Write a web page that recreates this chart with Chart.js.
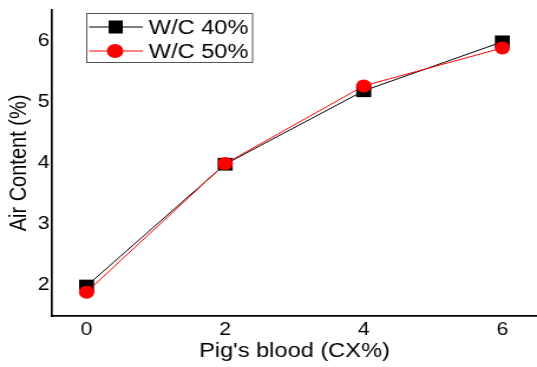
<!DOCTYPE html>
<html>
<head>
<meta charset="utf-8">
<script src="https://cdn.jsdelivr.net/npm/chart.js@4.4.0/dist/chart.umd.min.js"></script>
<style>
  html, body { margin: 0; padding: 0; background: #fff; overflow: hidden; }
  /* the source figure is stretched horizontally, so the canvas is too */
  #chart { display: block; transform: scaleX(1.1802); transform-origin: 0 0; }
</style>
</head>
<body>
<canvas id="chart" width="455" height="367"></canvas>
<script>
const xValues = [0, 2, 4, 6];
const wc40 = [1.99, 3.98, 5.18, 5.98];
const wc50 = [1.89, 3.99, 5.26, 5.88];
const xTicks = [0, 2, 4, 6];
const yTicks = [2, 3, 4, 5, 6];
const seriesNames = ["W/C 40%", "W/C 50%"];

const FONT = "'Liberation Sans', Arial, sans-serif";

// === Boxed legend with line + marker ===
const boxLegend = {
  id: "boxLegend",
  afterDraw(chart) {
    const ctx = chart.ctx;
    ctx.save();
    ctx.strokeStyle = "#555";
    ctx.lineWidth = 1;
    ctx.strokeRect(73.5, 13.5, 140.5, 49);
    const rows = [
      { y: 27, ds: chart.data.datasets[0] },
      { y: 51, ds: chart.data.datasets[1] },
    ];
    rows.forEach((r) => {
      ctx.strokeStyle = r.ds.borderColor;
      ctx.lineWidth = 1;
      ctx.beginPath();
      ctx.moveTo(75.5, r.y);
      ctx.lineTo(121, r.y);
      ctx.stroke();
      ctx.fillStyle = r.ds.pointBackgroundColor;
      if (r.ds.pointStyle === "rect") {
        ctx.fillRect(98 - 6, r.y - 6.5, 12, 13);
      } else {
        ctx.beginPath();
        ctx.arc(97.5, r.y, 7, 0, Math.PI * 2);
        ctx.fill();
      }
      ctx.fillStyle = "#000";
      ctx.font = "20px " + FONT;
      ctx.textBaseline = "middle";
      ctx.fillText(r.ds.label, 126, r.y + 1);
    });
    ctx.restore();
  },
};

const ctx = document.getElementById("chart").getContext("2d");
new Chart(ctx, {
  type: "line",
  data: {
    datasets: [
      {
        label: seriesNames[0],
        data: xValues.map((x, i) => ({ x: x, y: wc40[i] })),
        borderColor: "#000",
        borderWidth: 1,
        pointStyle: "rect",
        pointRadius: 9,
        pointBackgroundColor: "#000",
        pointBorderColor: "#000",
        pointBorderWidth: 0,
        order: 1,
      },
      {
        label: seriesNames[1],
        data: xValues.map((x, i) => ({ x: x, y: wc50[i] })),
        borderColor: "#ff0000",
        borderWidth: 1,
        pointStyle: "circle",
        pointRadius: 6.5,
        pointBackgroundColor: "#ff0000",
        pointBorderColor: "#ff0000",
        pointBorderWidth: 0,
        order: 0,
      },
    ],
  },
  options: {
    responsive: false,
    animation: false,
    devicePixelRatio: 1,
    layout: { autoPadding: false, padding: { top: 10, right: 0, left: 0, bottom: 0 } },
    plugins: { legend: { display: false }, tooltip: { enabled: false } },
    scales: {
      x: {
        type: "linear",
        min: -0.5,
        max: 6.5,
        afterBuildTicks: (axis) => {
          axis.ticks = xTicks.map((v) => ({ value: v }));
        },
        afterFit: (axis) => {
          axis.height = 51;
          axis.paddingLeft = 0;
          axis.paddingRight = 0;
        },
        grid: { display: false, drawTicks: false },
        border: { color: "#000", width: 1.7 },
        ticks: { color: "#000", font: { size: 18, family: FONT }, padding: 3, maxRotation: 0 },
        title: {
          display: true,
          text: "Pig's blood (CX%)",
          color: "#000",
          font: { size: 20, family: FONT },
          padding: { top: 0, bottom: 4 },
        },
      },
      y: {
        min: 1.5,
        max: 6.5,
        afterBuildTicks: (axis) => {
          axis.ticks = yTicks.map((v) => ({ value: v }));
        },
        afterFit: (axis) => {
          axis.width = 44;
          axis.paddingTop = 0;
          axis.paddingBottom = 0;
        },
        grid: { display: false, drawTicks: false },
        border: { color: "#000", width: 1.7 },
        ticks: { color: "#000", font: { size: 18, family: FONT }, padding: 2 },
        title: {
          display: true,
          text: "Air Content (%)",
          color: "#000",
          font: { size: 20, family: FONT },
          padding: { top: 4, bottom: 0 },
        },
      },
    },
  },
  plugins: [boxLegend],
});
</script>
</body>
</html>
